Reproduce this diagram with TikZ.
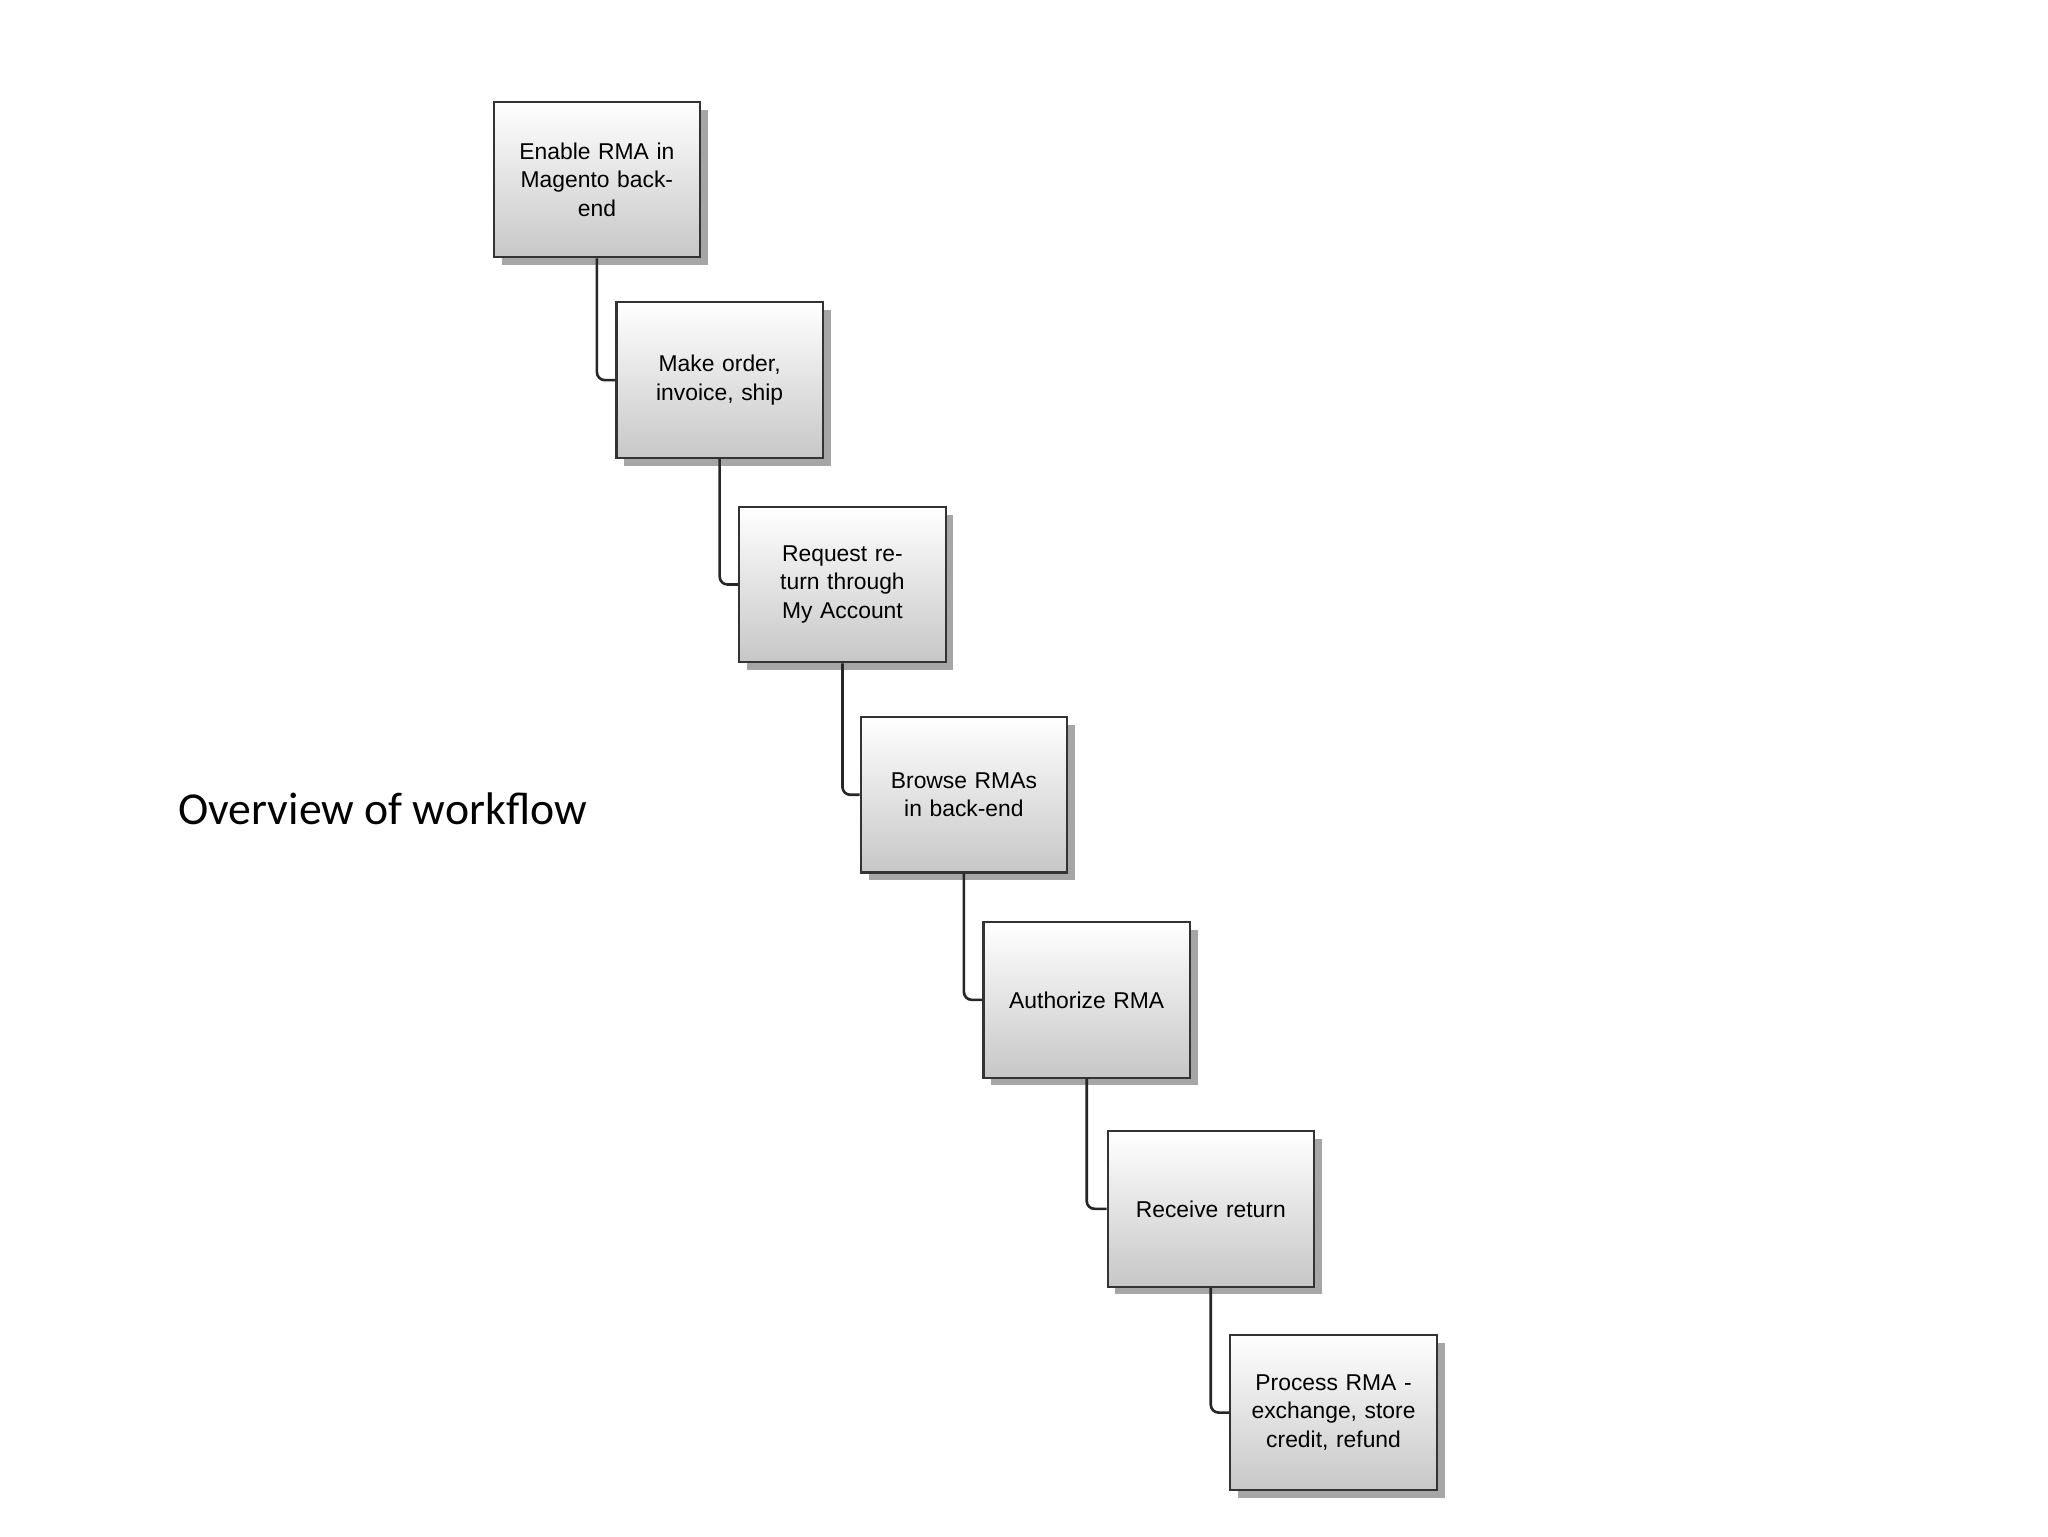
\documentclass[tikz,border=0pt]{standalone}
\usepackage{fontspec}
\setmainfont{Liberation Sans}
\newfontfamily\titlefont{Carlito}
\usetikzlibrary{shadows}
\begin{document}
\begin{tikzpicture}[x=1pt,y=-1pt,
  stepbox/.style={draw=black!80,line width=1.6pt,minimum width=158pt,minimum height=119pt,
    top color=white,bottom color=black!22,align=center,text width=140pt,
    font=\fontsize{17.5}{22}\selectfont,
    drop shadow={shadow xshift=6pt,shadow yshift=-6pt,fill=black!35,opacity=1}},
  link/.style={draw=black!85,line width=2pt,rounded corners=6pt}]
\useasboundingbox (0,0) rectangle (1568,1176);
\fill[white] (0,0) rectangle (1568,1176);
\node[stepbox] (b1) at (457,137.5) {Enable RMA in Magento back-\\end};
\node[stepbox] (b2) at (551,291) {Make order,\\invoice, ship};
\node[stepbox] (b3) at (645,447.5) {Request return through My Account};
\node[stepbox] (b4) at (738,608.5) {Browse RMAs in back-end};
\node[stepbox] (b5) at (832,765.5) {Authorize RMA};
\node[stepbox] (b6) at (927,925.5) {Receive return};
\node[stepbox] (b7) at (1021,1081.5) {Process RMA - exchange, store credit, refund};
\foreach \a/\b in {b1/b2,b2/b3,b3/b4,b4/b5,b5/b6,b6/b7}
  \draw[link] (\a.south) |- (\b.west);
\node[anchor=west,font=\titlefont\fontsize{35}{40}\selectfont] (t) at (133,619) {Overview of workflow};
\end{tikzpicture}
\end{document}
